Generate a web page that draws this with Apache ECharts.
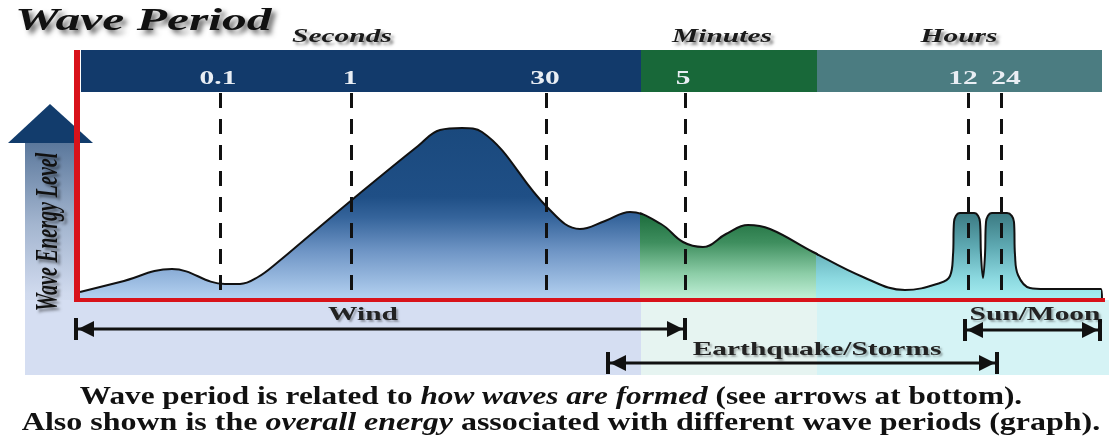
<!DOCTYPE html>
<html>
<head>
<meta charset="utf-8">
<script src="https://cdn.jsdelivr.net/npm/echarts@6/dist/echarts.min.js"></script>
<style>
html,body{margin:0;padding:0;background:#fff}
#chart{width:1109px;height:436px}
</style>
</head>
<body>
<div id="chart"></div>
<script>
// energy curve (x = position along the period scale, y = energy level)
var curveX = [2,42,94,147,162,180,200,225,275,340,362,384,404,469,502,527,552,583,605,625,648,670,
	692,735,785,827,862,872,875,876,882,896,902,903,905,907,908,914,929,936,937,940,
	952,967,1023,1024];
var curveY = [8,18,31,16,16,23,38,59,101,154,170,172,168,93,71,79,88,76,58,53,66,75,
	71,48,23,10,17,24,45,78,87,87,78,45,22,45,78,87,87,78,45,25,
	12,11,11,0];

// period bands (Seconds / Minutes / Hours)
var periodNames = ['Seconds', 'Minutes', 'Hours'];
var periodFrom = [3, 563, 739];
var periodTo = [563, 739, 1024];
var periodTextX = [264, 644, 881];

// tick marks on the period scale
var tickLabels = ['0.1', '1', '30', '5', '12', '24'];
var tickPos = [142, 273, 468, 607, 890, 923];
var tickLabelPos = [140, 272, 467, 605, 885, 928];

// what forms the waves
var arrowNames = ['Wind', 'Earthquake/Storms', 'Sun/Moon'];
var arrowFrom = [-2, 530, 887];
var arrowTo = [607, 919, 1022];
var arrowRow = [-29, -63, -30];
var arrowTextX = [285, 739, 957];
var arrowTextY = [-15, -50, -15];

// light zones under the axis
var zoneFrom = [-53, 563, 739];
var zoneTo = [563, 739, 1031];

var S = 1.55; // the source picture is stretched sideways
var serif = '"Liberation Serif", "Times New Roman", serif';
var bandBottom = 208, bandTop = 250, tickTextY = 221, periodTextY = 263;
var periodColors = ['#123a6b', '#186839', '#4b7c81'];
var zoneColors = ['#d5def2', '#e6f4f1', '#d5f3f5'];

var curve = curveX.map(function (x, i) { return [x, curveY[i]]; });

function grad(y1, stops) {
	return {type: 'linear', x: 0, y: y1, x2: 0, y2: 300, global: true,
		colorStops: stops.map(function (s) { return {offset: s[0], color: s[1]}; })};
}
var fills = [
	grad(128, [[0, '#1a497d'], [0.4, '#1f4f86'], [0.52, '#35649b'], [0.72, '#7096c6'], [1, '#b6d3f2']]),
	grad(212, [[0, '#1a6a3a'], [0.35, '#3f8f5f'], [0.7, '#8ccda7'], [1, '#c4f2da']]),
	grad(212, [[0, '#3a7880'], [0.4, '#5faab3'], [0.75, '#8bd8df'], [1, '#a8eef2']])
];

function renderZone(params, api) {
	var a = api.coord([api.value(0), 0]);
	var b = api.coord([api.value(1), -75]);
	return {type: 'rect', shape: {x: a[0], y: a[1], width: b[0] - a[0], height: b[1] - a[1]},
		style: {fill: zoneColors[params.dataIndex]}};
}

function renderPeriod(params, api) {
	var a = api.coord([api.value(0), bandTop]);
	var b = api.coord([api.value(1), bandBottom]);
	var t = api.coord([api.value(2), periodTextY]);
	return {type: 'group', children: [
		{type: 'rect', shape: {x: a[0], y: a[1], width: b[0] - a[0], height: b[1] - a[1]},
			style: {fill: periodColors[params.dataIndex]}},
		{type: 'text', x: t[0], y: t[1], scaleX: S,
			style: {text: periodNames[params.dataIndex], font: 'italic bold 19px ' + serif, fill: '#1a1a1a',
				align: 'center', verticalAlign: 'middle',
				textShadowColor: 'rgba(0,0,0,0.45)', textShadowBlur: 3, textShadowOffsetX: 3, textShadowOffsetY: 3}}
	]};
}

function renderTick(params, api) {
	var p = api.coord([api.value(0), tickTextY]);
	return {type: 'text', x: p[0], y: p[1], scaleX: S,
		style: {text: tickLabels[params.dataIndex], font: 'bold 19px ' + serif, fill: '#e9eef4',
			align: 'center', verticalAlign: 'middle'}};
}

function renderArrow(params, api) {
	var a = api.coord([api.value(0), api.value(2)]);
	var b = api.coord([api.value(1), api.value(2)]);
	var t = api.coord([api.value(3), api.value(4)]);
	var y = a[1], h = 11, L = 16, w = 8;
	return {type: 'group', children: [
		{type: 'line', shape: {x1: a[0], y1: y, x2: b[0], y2: y}, style: {stroke: '#111', lineWidth: 3}},
		{type: 'rect', shape: {x: a[0] - 2, y: y - h, width: 4, height: 2 * h}, style: {fill: '#111'}},
		{type: 'rect', shape: {x: b[0] - 2, y: y - h, width: 4, height: 2 * h}, style: {fill: '#111'}},
		{type: 'polygon', shape: {points: [[a[0] + 2, y], [a[0] + 2 + L, y - w], [a[0] + 2 + L, y + w]]}, style: {fill: '#111'}},
		{type: 'polygon', shape: {points: [[b[0] - 2, y], [b[0] - 2 - L, y - w], [b[0] - 2 - L, y + w]]}, style: {fill: '#111'}},
		{type: 'text', x: t[0], y: t[1], scaleX: S,
			style: {text: arrowNames[params.dataIndex], font: 'bold 19px ' + serif, fill: '#222',
				align: 'center', verticalAlign: 'middle',
				textShadowColor: 'rgba(0,0,0,0.3)', textShadowBlur: 2, textShadowOffsetX: 2, textShadowOffsetY: 2}}
	]};
}

var dashed = tickPos.map(function (x) {
	return [{coord: [x, 207]}, {coord: [x, 0]}];
});
dashed.push([{coord: [-1, -2], lineStyle: {color: '#d8121a', width: 6, type: 'solid'}}, {coord: [-1, 250]}]);
dashed.push([{coord: [-3, 0], lineStyle: {color: '#d8121a', width: 4, type: 'solid'}}, {coord: [1027, 0]}]);

var regions = [[78, 563, 0, 563], [641, 176, 563, 739], [817, 288, 739, 1027]];
var grids = [{left: 75, right: 4, top: 30, bottom: 61}];
var xAxes = [{type: 'value', min: -3, max: 1027, show: false}];
var yAxes = [{type: 'value', min: -75, max: 270, show: false}];
var fillSeries = [];
regions.forEach(function (r, i) {
	grids.push({left: r[0], width: r[1], top: 30, bottom: 61});
	xAxes.push({type: 'value', min: r[2], max: r[3], show: false, gridIndex: i + 1});
	yAxes.push({type: 'value', min: -75, max: 270, show: false, gridIndex: i + 1});
	fillSeries.push({
		type: 'line', xAxisIndex: i + 1, yAxisIndex: i + 1, data: curve, z: 2,
		smooth: 0.4, symbol: 'none', clip: true,
		lineStyle: {color: '#111', width: 2},
		areaStyle: {color: fills[i], opacity: 1}
	});
});

var capRich = {i: {fontStyle: 'italic', fontWeight: 'bold', fontSize: 25, fontFamily: serif, fill: '#111'}};

var option = {
	animation: false,
	backgroundColor: '#fff',
	grid: grids,
	xAxis: xAxes,
	yAxis: yAxes,
	graphic: [
		{type: 'rect', z: 0, shape: {x: 25, y: 143, width: 51, height: 232},
			style: {fill: {type: 'linear', x: 0, y: 0, x2: 0, y2: 1, colorStops: [
				{offset: 0, color: '#5b789c'}, {offset: 0.35, color: '#a3b5cf'},
				{offset: 0.65, color: '#d0daee'}, {offset: 1, color: '#dce4f3'}]}}},
		{type: 'polygon', z: 0, shape: {points: [[8, 143], [50, 104], [93, 143]]}, style: {fill: '#123c6c'}},
		{type: 'text', z: 10, x: 49, y: 232, rotation: Math.PI / 2, scaleY: S,
			style: {text: 'Wave Energy Level', font: 'italic bold 20px ' + serif, fill: '#111',
				align: 'center', verticalAlign: 'middle',
				textShadowColor: 'rgba(0,0,0,0.45)', textShadowBlur: 3, textShadowOffsetX: 3, textShadowOffsetY: 3}},
		{type: 'text', z: 1, x: 15, y: 22, scaleX: S,
			style: {text: 'Wave Period', font: 'italic bold 32px ' + serif, fill: '#111',
				align: 'left', verticalAlign: 'middle',
				textShadowColor: 'rgba(0,0,0,0.55)', textShadowBlur: 5, textShadowOffsetX: 4, textShadowOffsetY: 4}},
		{type: 'text', z: 1, x: 551, y: 398, scaleX: 1.25,
			style: {text: 'Wave period is related to {i|how waves are formed} (see arrows at bottom).',
				font: 'bold 25px ' + serif, fill: '#111', align: 'center', verticalAlign: 'middle', rich: capRich}},
		{type: 'text', z: 1, x: 561, y: 424, scaleX: 1.28,
			style: {text: 'Also shown is the {i|overall energy} associated with different wave periods (graph).',
				font: 'bold 25px ' + serif, fill: '#111', align: 'center', verticalAlign: 'middle', rich: capRich}}
	],
	series: [
		{type: 'custom', name: 'zones', z: 1, renderItem: renderZone,
			data: zoneFrom.map(function (v, i) { return [v, zoneTo[i]]; })},
		{type: 'custom', name: 'periods', z: 1, renderItem: renderPeriod,
			data: periodFrom.map(function (v, i) { return [v, periodTo[i], periodTextX[i]]; })},
		fillSeries[0], fillSeries[1], fillSeries[2],
		{type: 'line', name: 'guides', data: [], z: 3,
			markLine: {silent: true, symbol: 'none', animation: false,
				label: {show: false},
				lineStyle: {color: '#111', width: 3, type: [15, 11]},
				data: dashed}},
		{type: 'custom', name: 'ticks', z: 4, renderItem: renderTick,
			data: tickLabelPos.map(function (v) { return [v]; })},
		{type: 'custom', name: 'arrows', z: 5, renderItem: renderArrow,
			data: arrowFrom.map(function (v, i) { return [v, arrowTo[i], arrowRow[i], arrowTextX[i], arrowTextY[i]]; })}
	]
};

var myChart = echarts.init(document.getElementById('chart'));
myChart.setOption(option);
</script>
</body>
</html>
